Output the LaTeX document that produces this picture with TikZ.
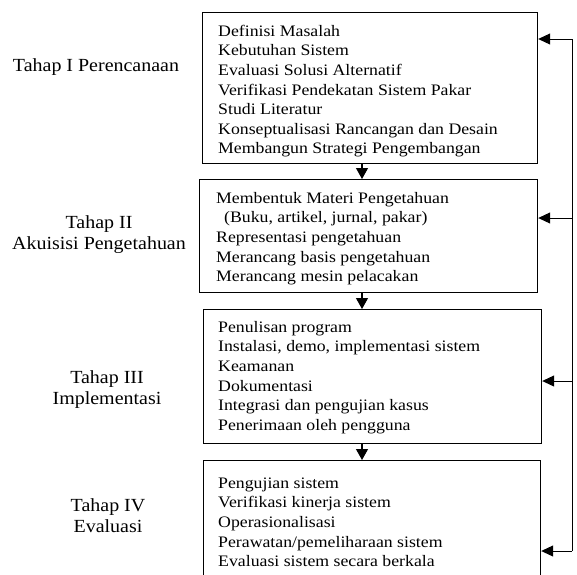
\documentclass[tikz,border=0pt]{standalone}
\usepackage{fontspec}
\setmainfont{Liberation Serif}
\newfontfamily\boxfont[FakeStretch=1.11]{Liberation Serif}
\newfontfamily\lblfont[FakeStretch=1.08]{Liberation Serif}
\usetikzlibrary{arrows.meta}
\begin{document}
\begin{tikzpicture}[x=1pt,y=-1pt,
  box/.style={draw, line width=1.2pt, rectangle, inner sep=0pt, anchor=north west},
  txt/.style={anchor=north west, inner sep=0pt, align=left, font=\boxfont\fontsize{16}{19.6}\selectfont},
  lbl/.style={anchor=north, inner sep=0pt, align=center, font=\lblfont\fontsize{18.5}{21}\selectfont},
  arr/.style={-{Triangle[length=12pt,width=11pt]}, line width=1pt},
  darr/.style={-{Triangle[length=11pt,width=12pt]}, line width=1.2pt}]
\clip (0,0) rectangle (577,574);
% boxes
\node[box, minimum width=335pt, minimum height=151pt] (b1) at (202,12) {};
\node[box, minimum width=338pt, minimum height=113pt] (b2) at (199,179) {};
\node[box, minimum width=338pt, minimum height=134pt] (b3) at (203,309) {};
\node[box, minimum width=337pt, minimum height=140pt] (b4) at (203,460) {};
% box texts
\node[txt] (t1) at (218,22.3) {\strut Definisi Masalah\\Kebutuhan Sistem\\Evaluasi Solusi Alternatif\\Verifikasi Pendekatan Sistem Pakar\\Studi Literatur\\Konseptualisasi Rancangan dan Desain\\Membangun Strategi Pengembangan};
\node[txt] (t2) at (216,189.3) {\strut Membentuk Materi Pengetahuan\\\hspace*{8pt}(Buku, artikel, jurnal, pakar)\\Representasi pengetahuan\\Merancang basis pengetahuan\\Merancang mesin pelacakan};
\node[txt] (t3) at (218,318.3) {\strut Penulisan program\\Instalasi, demo, implementasi sistem\\Keamanan\\Dokumentasi\\Integrasi dan pengujian kasus\\Penerimaan oleh pengguna};
\node[txt] (t4) at (218,474.3) {\strut Pengujian sistem\\Verifikasi kinerja sistem\\Operasionalisasi\\Perawatan/pemeliharaan sistem\\Evaluasi sistem secara berkala};
% stage labels
\node[lbl] (l1) at (96,56.3) {\strut Tahap I Perencanaan};
\node[lbl] (l2) at (99,213.3) {\strut Tahap II\\\strut Akuisisi Pengetahuan};
\node[lbl] (l3) at (107,368.3) {\strut Tahap III\\\strut Implementasi};
\node[lbl] (l4) at (108,496.3) {\strut Tahap IV\\\strut Evaluasi};
% down arrows
\coordinate (d) at (362,0);
\draw[darr] (b1.south -| d) -- (b2.north -| d);
\draw[darr] (b2.south -| d) -- (b3.north -| d);
\draw[darr] (b3.south -| d) -- (b4.north -| d);
% feedback line
\coordinate (f1) at (572,39);
\coordinate (f2) at (572,218);
\coordinate (f3) at (572,381);
\coordinate (f4) at (572,551);
\draw[line width=1pt] (f1) -- (f4);
\draw[arr] (f1) -- (b1.east |- f1);
\draw[arr] (f2) -- (b2.east |- f2);
\draw[arr] (f3) -- (b3.east |- f3);
\draw[arr] (f4) -- (b4.east |- f4);
\end{tikzpicture}
\end{document}
